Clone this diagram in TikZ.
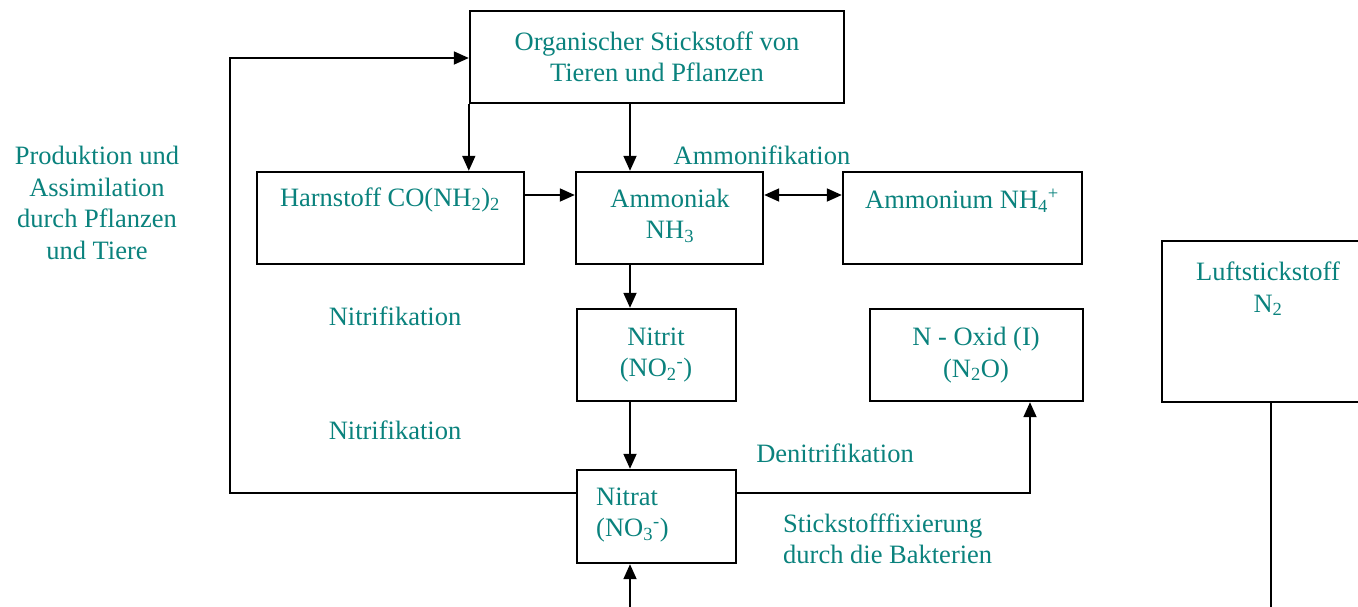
\documentclass[tikz,border=0pt]{standalone}
\usepackage{fontspec}
\setmainfont{Liberation Serif}
\usetikzlibrary{arrows.meta,calc}
\definecolor{tealtxt}{RGB}{10,130,125}
\begin{document}
\begin{tikzpicture}[x=1pt,y=-1pt,
  box/.style={draw,line width=2.4pt,minimum width=#1,inner sep=0pt},
  lbl/.style={text=tealtxt,font=\fontsize{26.5}{31.5}\selectfont,inner sep=0pt,align=center},
  tip/.style={Triangle[length=15pt,width=13pt]},
  arr/.style={line width=1.8pt,-{Triangle[length=15pt,width=13pt]}},
  ln/.style={line width=1.8pt}]
\useasboundingbox (0,0) rectangle (1358,606);
\clip (0,0) rectangle (1358,606);
% boxes
\node[box=374pt,minimum height=92pt] (org) at (657,57) {};
\node[box=267pt,minimum height=92pt] (harn) at (390.5,218) {};
\node[box=187pt,minimum height=92pt] (ammk) at (669.5,218) {};
\node[box=239pt,minimum height=92pt] (ammm) at (962.5,218) {};
\node[box=159pt,minimum height=92pt] (nitrit) at (656.5,355) {};
\node[box=213pt,minimum height=92pt] (noxid) at (976.5,355) {};
\node[box=159pt,minimum height=93pt] (nitrat) at (656.5,516.5) {};
\node[box=218pt,minimum height=161pt] (luft) at (1271,321.5) {};
% texts
\node[lbl] (torg) at (657,57) {Organischer Stickstoff von\\Tieren und Pflanzen};
\node[lbl] (tharn) at (390,200) {Harnstoff CO(NH\textsubscript{2})\textsubscript{2}};
\node[lbl] (tammk) at (670,216) {Ammoniak\\NH\textsubscript{3}};
\node[lbl] (tammm) at (962,201) {Ammonium NH\textsubscript{4}\textsuperscript{+}};
\node[lbl] (tnitrit) at (656,355) {Nitrit\\(NO\textsubscript{2}\textsuperscript{-})};
\node[lbl] (tnoxid) at (976,355) {N - Oxid (I)\\(N\textsubscript{2}O)};
\node[lbl,align=left,anchor=west] (tnitrat) at (596,515) {Nitrat\\(NO\textsubscript{3}\textsuperscript{-})};
\node[lbl] (tluft) at (1268,289) {Luftstickstoff\\N\textsubscript{2}};
\node[lbl] (tammon) at (762,155) {Ammonifikation};
\node[lbl] (tnitr1) at (395,316) {Nitrifikation};
\node[lbl] (tnitr2) at (395,430) {Nitrifikation};
\node[lbl] (tdenit) at (835,453) {Denitrifikation};
\node[lbl,align=left,anchor=west] (tfix) at (783,539) {Stickstofffixierung\\durch die Bakterien};
\node[lbl] (tprod) at (97,203) {Produktion und\\Assimilation\\durch Pflanzen\\und Tiere};
% helper coordinates
\coordinate (cx) at (630,0);
\coordinate (cy) at (0,195);
\coordinate (bot) at (630,620);
\coordinate (l1) at (230,493);
\coordinate (l2) at (230,58);
\coordinate (r1) at (1030,493);
% connectors
\draw[arr] (org.south west) -- (org.south west |- harn.north);
\draw[arr] (org.south -| cx) -- (ammk.north -| cx);
\draw[arr] (harn.east |- cy) -- (ammk.west |- cy);
\draw[line width=1.8pt,{Triangle[length=15pt,width=13pt]}-{Triangle[length=15pt,width=13pt]}] (ammk.east |- cy) -- (ammm.west |- cy);
\draw[arr] (ammk.south -| cx) -- (nitrit.north -| cx);
\draw[arr] (nitrit.south -| cx) -- (nitrat.north -| cx);
\draw[arr] (bot) -- (nitrat.south -| bot);
\draw[arr] (nitrat.west |- l1) -- (l1) -- (l2) -- (org.west |- l2);
\draw[arr] (nitrat.east |- r1) -- (r1) -- (noxid.south -| r1);
\draw[ln] (luft.south) -- (luft.south |- bot);
\end{tikzpicture}
\end{document}
